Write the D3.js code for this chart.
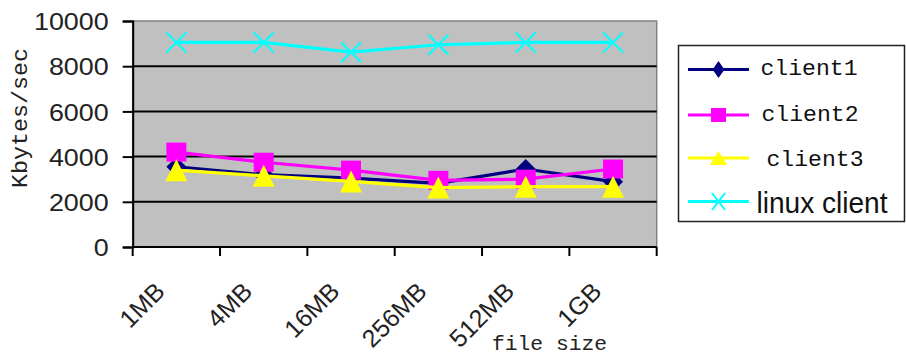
<!DOCTYPE html>
<html>
<head>
<meta charset="utf-8">
<script src="https://cdn.jsdelivr.net/npm/d3@7"></script>
<style>
  html, body { margin: 0; padding: 0; background: #fff; }
  svg { display: block; }
</style>
</head>
<body>
<svg id="chart" width="906" height="356"></svg>
<script>
// File sizes on the x axis
const categories = ["1MB", "4MB", "16MB", "256MB", "512MB", "1GB"];

// Throughput per client, Kbytes/sec
const client1 = [3550, 3200, 3050, 2820, 3450, 2890];
const client2 = [4200, 3750, 3400, 2950, 3000, 3450];
const client3 = [3400, 3150, 2900, 2630, 2670, 2670];
const linuxClient = [9050, 9050, 8620, 8950, 9050, 9050];

const seriesNames = ["client1", "client2", "client3", "linux client"];
const yTicks = [0, 2000, 4000, 6000, 8000, 10000];

const series = [
  { name: seriesNames[0], values: client1, color: "#000080", marker: "diamond" },
  { name: seriesNames[1], values: client2, color: "#FF00FF", marker: "square" },
  { name: seriesNames[2], values: client3, color: "#FFFF00", marker: "triangle" },
  { name: seriesNames[3], values: linuxClient, color: "#00FFFF", marker: "cross" }
];

const svg = d3.select("#chart");
const plot = { left: 132.7, right: 656.7, top: 21, bottom: 247 };

const x = d3.scaleBand().domain(categories).range([plot.left, plot.right]).padding(0);
const y = d3.scaleLinear().domain([0, 10000]).range([plot.bottom, plot.top]);
const cx = c => x(c) + x.bandwidth() / 2;

// Plot background
svg.append("rect")
  .attr("x", plot.left).attr("y", plot.top)
  .attr("width", plot.right - plot.left).attr("height", plot.bottom - plot.top)
  .attr("fill", "#C0C0C0")
  .attr("stroke", "#808080").attr("stroke-width", 1.5);

// Horizontal gridlines
svg.append("g").selectAll("line")
  .data(yTicks.filter(t => t > 0 && t < 10000))
  .join("line")
  .attr("x1", plot.left).attr("x2", plot.right)
  .attr("y1", d => y(d)).attr("y2", d => y(d))
  .attr("stroke", "#000").attr("stroke-width", 2);

// Y axis
const yAxis = svg.append("g")
  .attr("transform", `translate(${plot.left},0)`)
  .call(d3.axisLeft(y).tickValues(yTicks).tickSize(10).tickFormat(d3.format("d")));
yAxis.select(".domain").attr("stroke", "#000").attr("stroke-width", 2);
yAxis.selectAll(".tick line").attr("stroke", "#000").attr("stroke-width", 2);
yAxis.selectAll(".tick text")
  .attr("x", -24)
  .attr("dy", "0.36em")
  .attr("font-family", "Arial, 'Liberation Sans', sans-serif")
  .attr("font-size", 24)
  .attr("fill", "#222")
  .each(function () {
    const w = this.getComputedTextLength();
    d3.select(this).attr("textLength", w * 1.12).attr("lengthAdjust", "spacingAndGlyphs");
  });

// X axis (ticks at band edges)
const xEdges = categories.map(c => x(c)).concat([plot.right]);
svg.append("line")
  .attr("x1", plot.left).attr("x2", plot.right)
  .attr("y1", plot.bottom).attr("y2", plot.bottom)
  .attr("stroke", "#000").attr("stroke-width", 2);
svg.append("g").selectAll("line")
  .data(xEdges)
  .join("line")
  .attr("x1", d => d).attr("x2", d => d)
  .attr("y1", plot.bottom).attr("y2", plot.bottom + 9)
  .attr("stroke", "#000").attr("stroke-width", 2);

// Rotated category labels
svg.append("g").selectAll("text")
  .data(categories)
  .join("text")
  .attr("transform", d => `translate(${cx(d) - 10},293) rotate(-45)`)
  .attr("text-anchor", "end")
  .attr("font-family", "Arial, 'Liberation Sans', sans-serif")
  .attr("font-size", 25)
  .attr("fill", "#222")
  .text(d => d);

// Axis titles
svg.append("text")
  .attr("transform", "translate(27,118) rotate(-90)")
  .attr("text-anchor", "middle")
  .attr("font-family", "'Liberation Mono', 'Courier New', monospace")
  .attr("font-size", 22)
  .attr("fill", "#222")
  .attr("textLength", 140).attr("lengthAdjust", "spacingAndGlyphs")
  .text("Kbytes/sec");

svg.append("text")
  .attr("x", 492).attr("y", 350)
  .attr("font-family", "'Liberation Mono', 'Courier New', monospace")
  .attr("font-size", 20)
  .attr("fill", "#222")
  .attr("textLength", 115).attr("lengthAdjust", "spacingAndGlyphs")
  .text("file size");

// Marker shapes
function drawMarker(g, type, color, px, py, s) {
  if (type === "diamond") {
    g.append("path")
      .attr("d", `M${px},${py - s.h}L${px + s.w},${py}L${px},${py + s.h}L${px - s.w},${py}Z`)
      .attr("fill", color);
  } else if (type === "square") {
    g.append("rect")
      .attr("x", px - s.w).attr("y", py - s.h)
      .attr("width", 2 * s.w).attr("height", 2 * s.h)
      .attr("fill", color);
  } else if (type === "triangle") {
    g.append("path")
      .attr("d", `M${px},${py - s.h}L${px + s.w},${py + s.h}L${px - s.w},${py + s.h}Z`)
      .attr("fill", color);
  } else if (type === "cross") {
    g.append("path")
      .attr("d", `M${px - s.w},${py - s.h}L${px + s.w},${py + s.h}M${px - s.w},${py + s.h}L${px + s.w},${py - s.h}`)
      .attr("stroke", color).attr("stroke-width", 2).attr("fill", "none");
  }
}

const plotSizes = {
  diamond: { w: 10, h: 10 },
  square: { w: 10, h: 9.5 },
  triangle: { w: 11, h: 11 },
  cross: { w: 10, h: 10 }
};

const line = d3.line().x(d => cx(d.c)).y(d => y(d.v));

series.forEach(s => {
  const g = svg.append("g");
  const pts = s.values.map((v, i) => ({ c: categories[i], v }));
  g.append("path")
    .attr("d", line(pts))
    .attr("fill", "none")
    .attr("stroke", s.color)
    .attr("stroke-width", 3.2);
  pts.forEach(p => drawMarker(g, s.marker, s.color, cx(p.c), y(p.v), plotSizes[s.marker]));
});

// Legend
const legend = svg.append("g");
legend.append("rect")
  .attr("x", 678.5).attr("y", 45.5)
  .attr("width", 226).attr("height", 176)
  .attr("fill", "#fff")
  .attr("stroke", "#222").attr("stroke-width", 1.5);

const legendRows = [69.5, 115, 158, 201.5];
const legendBase = [75, 120.5, 166, 213];
const legendTextX = [760.5, 761.5, 766.5, 756.5];
const legendWidths = [97, 97, 97, 131];
const legendSizes = {
  diamond: { w: 6, h: 8.5 },
  square: { w: 7.5, h: 7 },
  triangle: { w: 8.5, h: 7 },
  cross: { w: 6.5, h: 8.5 }
};

series.forEach((s, i) => {
  const ly = legendRows[i];
  legend.append("line")
    .attr("x1", 688).attr("x2", 749)
    .attr("y1", ly).attr("y2", ly)
    .attr("stroke", s.color).attr("stroke-width", 3.2);
  drawMarker(legend, s.marker, s.color, 718.5, ly, legendSizes[s.marker]);
  const mono = i < 3;
  legend.append("text")
    .attr("x", legendTextX[i]).attr("y", legendBase[i])
    .attr("font-family", mono ? "'Liberation Mono', 'Courier New', monospace" : "Arial, 'Liberation Sans', sans-serif")
    .attr("font-size", mono ? 22 : 29)
    .attr("fill", "#111")
    .attr("textLength", legendWidths[i]).attr("lengthAdjust", "spacingAndGlyphs")
    .text(s.name);
});
</script>
</body>
</html>
